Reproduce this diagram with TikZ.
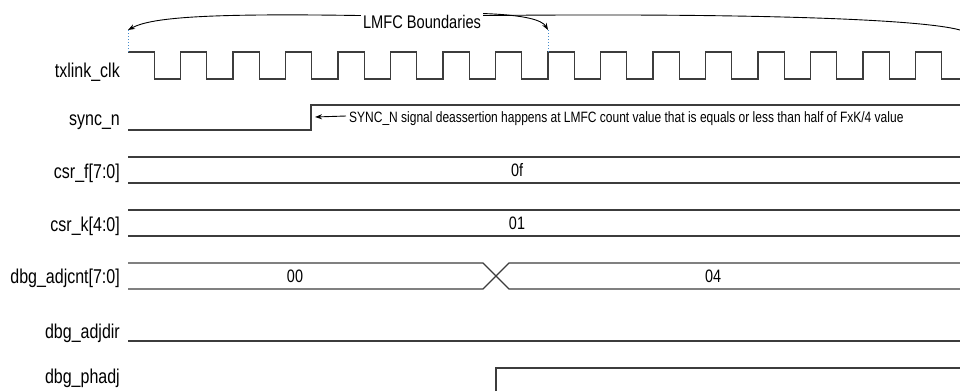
\documentclass[tikz,border=0pt]{standalone}
\usepackage{fontspec}
\setmainfont{Liberation Sans}[FakeStretch=0.8]
\usetikzlibrary{arrows.meta}

\definecolor{wave}{RGB}{60,60,60}
\definecolor{mark}{RGB}{70,140,205}

\tikzset{
  sig/.style={draw=wave, line width=1.1pt},
  lbl/.style={anchor=base east, inner sep=0pt, font=\fontsize{20}{24}\selectfont},
  val/.style={inner sep=0pt, font=\fontsize{18}{22}\selectfont},
  note/.style={inner sep=0pt, font=\fontsize{15}{18}\selectfont},
  bound/.style={draw=black, line width=0.9pt},
  tick/.style={draw=mark, dotted, line width=1pt}
}

\begin{document}
\begin{tikzpicture}[x=1pt,y=-1pt]
\useasboundingbox (0,0) rectangle (960,391);
% signal names
\node[lbl] (nclk) at (120,77) {txlink\_clk};
\node[lbl] (nsync) at (120,125) {sync\_n};
\node[lbl] (nf) at (120,178) {csr\_f[7:0]};
\node[lbl] (nk) at (120,231) {csr\_k[4:0]};
\node[lbl] (ncnt) at (120,283) {dbg\_adjcnt[7:0]};
\node[lbl] (ndir) at (120,338) {dbg\_adjdir};
\node[lbl] (nphadj) at (120,383) {dbg\_phadj};
% txlink_clk
\draw[sig] (128,52) foreach \i in {0,...,14} {
  -- ++(26.25,0) -- ++(0,27) -- ++(26.25,0) -- ++(0,-27) }
  -- ++(26.25,0) -- ++(0,27) -- (960,79);
% sync_n
\draw[sig] (128,130) -- (311,130) -- (311,105) -- (960,105);
% csr_f
\draw[sig] (128,157) -- (960,157);
\draw[sig] (128,183) -- (960,183);
\node[val] (vf) at (517,170) {0f};
% csr_k
\draw[sig] (128,210) -- (960,210);
\draw[sig] (128,236) -- (960,236);
\node[val] (vk) at (517,223) {01};
% dbg_adjcnt
\draw[sig] (128,263) -- (483,263) -- (509,289) -- (960,289);
\draw[sig] (128,289) -- (483,289) -- (509,263) -- (960,263);
\node[val] (vcnt0) at (295,276) {00};
\node[val] (vcnt1) at (713,276) {04};
% dbg_adjdir
\draw[sig] (128,341) -- (960,341);
% dbg_phadj
\draw[sig] (496,391) -- (496,368) -- (960,368);
% LMFC boundaries
\coordinate (b0) at (128,30);
\coordinate (b1) at (548,30);
\coordinate (bend) at (960,30);
\draw[tick] (b0) -- (128,52);
\draw[tick] (b1) -- (548,52);
\node[note, font=\fontsize{18.3}{22}\selectfont, anchor=base] (lmfc) at (422,28) {LMFC Boundaries};
\draw[bound, -{Stealth[length=7pt,width=5pt]}] ([xshift=-2pt,yshift=-1pt]lmfc.north west)
  .. controls (200,13) and (150,18) .. (b0);
\draw[bound, -{Stealth[length=7pt,width=5pt]}] ([xshift=2pt,yshift=1pt]lmfc.north east)
  .. controls (525,15) and (542,20) .. (b1);
\draw[bound] ([xshift=2pt,yshift=-1pt]lmfc.north east)
  .. controls (750,13) and (920,19) .. (bend);
% sync note
\node[note, anchor=west] (syncnote) at (349,119) {SYNC\_N signal deassertion happens at LMFC count value that is equals or less than half of FxK/4 value};
\coordinate (srise) at (315,117);
\draw[bound, -{Stealth[length=7pt,width=5pt]}] ([xshift=-3pt,yshift=3pt]syncnote.west) -- (srise);
\end{tikzpicture}
\end{document}
